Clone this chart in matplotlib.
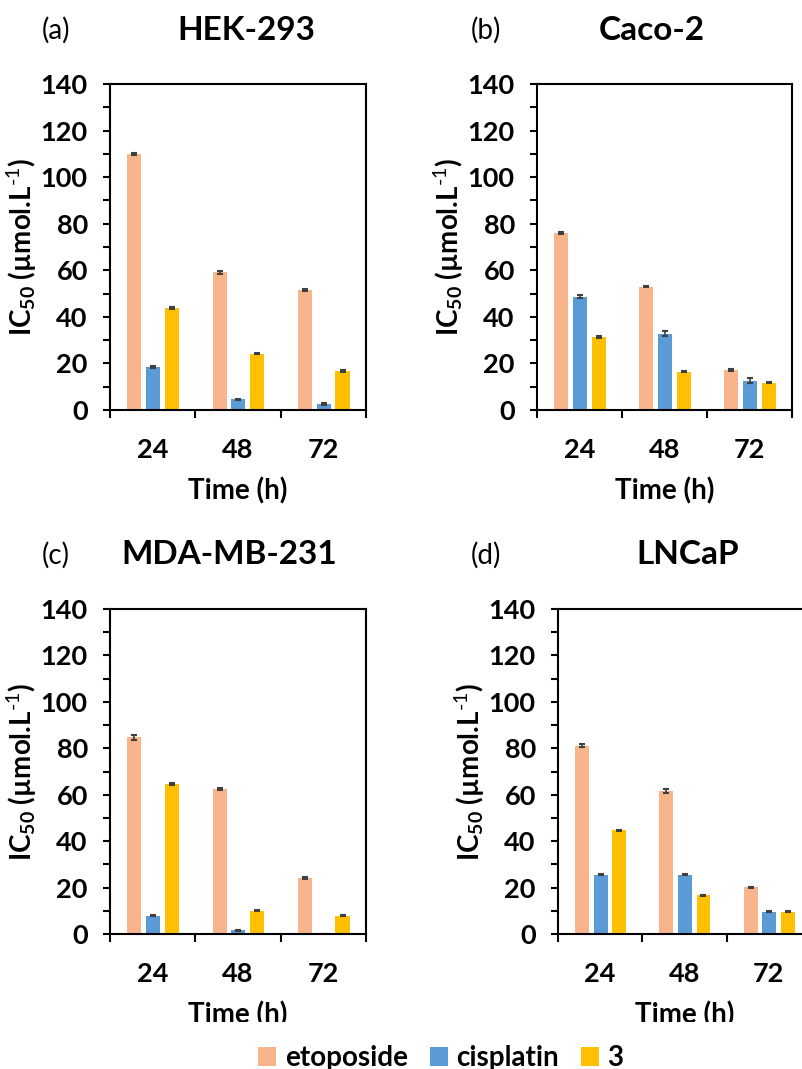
import matplotlib
matplotlib.use("Agg")
import matplotlib.pyplot as plt
from matplotlib.patches import Patch, Rectangle
import numpy as np

# Data (IC50, umol/L) at 24, 48, 72 h
times = ["24", "48", "72"]
series_names = ["etoposide", "cisplatin", "3"]

hek_eto = [110.0, 59.1, 51.5]
hek_cis = [18.3, 4.6, 2.6]
hek_3 = [43.7, 24.2, 16.7]
hek_eto_err = [0.4, 0.5, 0.5]
hek_cis_err = [0.4, 0.3, 0.3]
hek_3_err = [0.4, 0.3, 0.4]

caco_eto = [76.0, 53.0, 17.2]
caco_cis = [48.7, 32.8, 12.6]
caco_3 = [31.3, 16.5, 11.7]
caco_eto_err = [0.3, 0.3, 0.3]
caco_cis_err = [0.5, 1.0, 1.2]
caco_3_err = [0.4, 0.3, 0.3]

mda_eto = [84.7, 62.5, 24.0]
mda_cis = [7.9, 1.6, 0.0]
mda_3 = [64.7, 10.1, 7.9]
mda_eto_err = [1.0, 0.3, 0.5]
mda_cis_err = [0.3, 0.3, 0.0]
mda_3_err = [0.3, 0.3, 0.3]

ln_eto = [81.1, 61.5, 20.1]
ln_cis = [25.6, 25.6, 9.6]
ln_3 = [44.6, 16.7, 9.6]
ln_eto_err = [0.7, 0.8, 0.3]
ln_cis_err = [0.3, 0.3, 0.3]
ln_3_err = [0.3, 0.3, 0.3]

colors = ["#F8B48A", "#5B9BD5", "#FFC000"]

plt.rcParams['font.family'] = ['Lato', 'DejaVu Sans']
plt.rcParams['mathtext.fontset'] = 'custom'
plt.rcParams['mathtext.rm'] = 'Lato'
plt.rcParams['mathtext.default'] = 'regular'

fig = plt.figure(figsize=(8.03, 10.69), dpi=100)
W, H = 803.0, 1069.0

# panel geometry in pixels: left, top, right, bottom
panels = [
    ("(a)", "HEK-293", (110, 84, 366, 410), (56, 30), (246, 30),
     [hek_eto, hek_cis, hek_3], [hek_eto_err, hek_cis_err, hek_3_err]),
    ("(b)", "Caco-2", (537, 84, 792, 410), (486, 30), (652, 30),
     [caco_eto, caco_cis, caco_3], [caco_eto_err, caco_cis_err, caco_3_err]),
    ("(c)", "MDA-MB-231", (110, 609, 366, 934), (56, 555), (229, 555),
     [mda_eto, mda_cis, mda_3], [mda_eto_err, mda_cis_err, mda_3_err]),
    ("(d)", "LNCaP", (558, 609, 811, 934), (486, 555), (688, 555),
     [ln_eto, ln_cis, ln_3], [ln_eto_err, ln_cis_err, ln_3_err]),
]

x = np.arange(1, len(times) + 1)
offsets = [-0.215, 0.005, 0.225]
bar_w = 0.165

for tag, title, (l, t, r, b), tag_xy, title_xy, vals, errs in panels:
    ax = fig.add_axes([l / W, 1 - b / H, (r - l) / W, (b - t) / H])
    for k in range(3):
        ax.bar(x + offsets[k], vals[k], width=bar_w, color=colors[k],
               yerr=errs[k], capsize=2.5,
               error_kw={'ecolor': '#404040', 'elinewidth': 1.2, 'capthick': 1.5})
    ax.set_ylim(0, 140)
    ax.set_xlim(0.5, 3.5)
    ax.set_yticks(np.arange(0, 141, 20))
    ax.set_yticks(np.arange(10, 140, 20), minor=True)
    ax.set_xticks([0.5, 1.5, 2.5, 3.5])
    ax.set_xticklabels([])
    ax.set_xticks(x, minor=True)
    ax.set_xticklabels(times, minor=True)
    for s in ax.spines.values():
        s.set_linewidth(1.5)
    ax.tick_params(axis='y', which='both', direction='out', length=5, width=1.5,
                   labelsize=19.5, pad=11)
    ax.tick_params(axis='x', which='major', direction='out', length=6, width=1.5)
    ax.tick_params(axis='x', which='minor', length=0, labelsize=19.5, pad=20)
    for lab in ax.get_yticklabels() + ax.get_xticklabels(minor=True):
        lab.set_fontweight('bold')
    ax.set_ylabel("IC$_{50}$ (µmol.L$^{\\text{-1}}$)", fontsize=20, fontweight='bold',
                  labelpad=1)
    ax.set_xlabel("Time (h)", fontsize=20, fontweight='bold', labelpad=11)
    fig.text(tag_xy[0] / W, 1 - tag_xy[1] / H, tag, fontsize=20,
             ha='center', va='center')
    fig.text(title_xy[0] / W, 1 - title_xy[1] / H, title, fontsize=24,
             fontweight='bold', ha='center', va='center')

# white strip at the bottom that clips the lower x labels
fig.add_artist(Rectangle((0, 0), 1, 1 - 1022 / H, transform=fig.transFigure,
                         facecolor='white', edgecolor='none', zorder=5))

handles = [Patch(facecolor=c, edgecolor='none') for c in colors]
leg = fig.legend(handles, series_names, loc='center', bbox_to_anchor=(441 / W, 1 - 1058 / H),
                 ncol=3, frameon=False, fontsize=20, handlelength=0.65, handleheight=0.65,
                 handletextpad=0.3, columnspacing=0.8, borderaxespad=0)
leg.set_zorder(6)
for txt in leg.get_texts():
    txt.set_fontweight('bold')

fig.savefig("out.png", dpi=100)
